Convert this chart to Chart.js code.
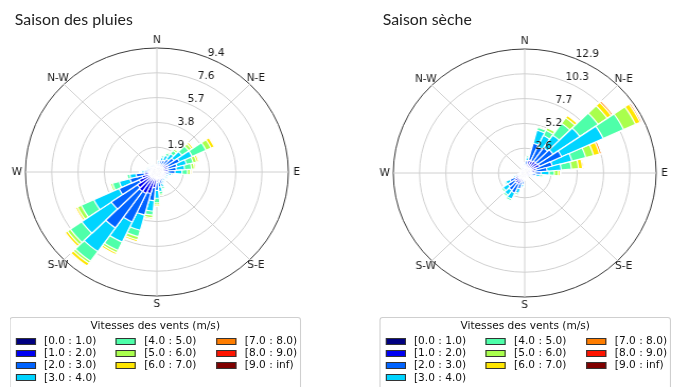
<!DOCTYPE html>
<html>
<head>
<meta charset="utf-8">
<script src="https://cdn.jsdelivr.net/npm/chart.js@4.4.0/dist/chart.umd.min.js"></script>
<style>
html, body { margin: 0; padding: 0; background: #fff; overflow: hidden; }
#page { position: relative; width: 637px; height: 387px; transform: scaleX(1.06); transform-origin: 0 0; }
.titre { position: absolute; top: 10px; font: 15px Lato, sans-serif; line-height: 18px; color: #222; white-space: nowrap; }
.rose { position: absolute; width: 300px; height: 300px; }
.legende { position: absolute; top: 317px; width: 273px; height: 90px; border: 1px solid #cfcfcf; border-radius: 3px;
  font: 10px "DejaVu Sans", sans-serif; color: #111; background: #fff; }
.legende .lt { position: absolute; left: 0; right: 0; top: 2px; text-align: center; line-height: 12px; }
.legende .sw { position: absolute; width: 19px; height: 7px; box-sizing: border-box; border: 1px solid #333; }
.legende .tx { position: absolute; line-height: 12px; white-space: nowrap; }
</style>
</head>
<body>
<div id="page">
  <div class="titre" style="left:14px">Saison des pluies</div>
  <div class="titre" style="left:361px">Saison sèche</div>
  <canvas id="rosePluies" class="rose" width="300" height="300" style="left:-2px;top:22px"></canvas>
  <canvas id="roseSeche" class="rose" width="300" height="300" style="left:345px;top:23px"></canvas>
  <div id="legPluies" class="legende" style="left:9px"></div>
  <div id="legSeche" class="legende" style="left:358px"></div>
</div>
<script>
// directions (degrees, clockwise from north), 36 sectors
const directions = [0, 10, 20, 30, 40, 50, 60, 70, 80, 90, 100, 110, 120, 130, 140, 150, 160, 170,
    180, 190, 200, 210, 220, 230, 240, 250, 260, 270, 280, 290, 300, 310, 320, 330, 340, 350];

const classes = ['[0.0 : 1.0)', '[1.0 : 2.0)', '[2.0 : 3.0)', '[3.0 : 4.0)', '[4.0 : 5.0)',
    '[5.0 : 6.0)', '[6.0 : 7.0)', '[7.0 : 8.0)', '[8.0 : 9.0)', '[9.0 : inf)'];
const couleurs = ['#000080', '#0000f1', '#0063ff', '#00d4ff', '#4effa9',
    '#a9ff4d', '#ffe600', '#ff7d00', '#ff1400', '#800000'];

// Saison des pluies : frequence (%) par classe de vitesse
const pluies0 = [0.2, 0.25, 0.3, 0.3, 0.3, 0.3, 0.3, 0.3, 0.3, 0.3, 0.25, 0.25, 0.25, 0.25, 0.25, 0.25, 0.3, 0.3,
    0.3, 0.3, 0.4, 0.4, 0.4, 0.4, 0.3, 0.3, 0.3, 0.25, 0.25, 0.25, 0.2, 0.2, 0.25, 0.2, 0.2, 0.2];
const pluies1 = [0.15, 0.25, 0.3, 0.3, 0.4, 0.5, 0.6, 0.5, 0.5, 0.4, 0.3, 0.25, 0.25, 0.25, 0.25, 0.3, 0.3, 0.4,
    0.5, 0.9, 1.3, 1.4, 1.4, 1.3, 1.1, 0.8, 0.6, 0.35, 0.25, 0.25, 0.2, 0.2, 0.25, 0.2, 0.15, 0.15];
const pluies2 = [0.1, 0.2, 0.3, 0.4, 0.5, 0.7, 0.9, 0.7, 0.6, 0.6, 0.3, 0.2, 0.2, 0.15, 0.2, 0.25, 0.35, 0.45,
    0.6, 1.0, 1.7, 2.4, 3.4, 2.3, 1.6, 0.9, 0.6, 0.3, 0.2, 0.15, 0.15, 0.15, 0.15, 0.1, 0.1, 0.1];
const pluies3 = [0.05, 0.15, 0.25, 0.4, 0.5, 0.7, 1.0, 0.7, 0.6, 0.5, 0.2, 0.15, 0.15, 0.1, 0.15, 0.15, 0.25, 0.35,
    0.6, 0.8, 1.2, 1.7, 2.2, 2.6, 2.0, 0.8, 0.45, 0.2, 0.15, 0.1, 0.1, 0.1, 0.1, 0.1, 0.05, 0.05];
const pluies4 = [0, 0.05, 0.15, 0.2, 0.3, 0.6, 1.1, 0.5, 0.5, 0.4, 0.1, 0.05, 0.05, 0.05, 0.05, 0.05, 0.15, 0.2,
    0.35, 0.3, 0.5, 0.7, 0.9, 1.0, 1.0, 0.5, 0.2, 0.1, 0.05, 0.05, 0.05, 0.05, 0.05, 0, 0, 0];
const pluies5 = [0, 0, 0, 0.1, 0.15, 0.25, 0.4, 0.25, 0.2, 0.2, 0.05, 0, 0, 0, 0, 0, 0.05, 0.1,
    0.15, 0.2, 0.25, 0.2, 0.2, 0.25, 0.3, 0.15, 0.05, 0, 0, 0, 0, 0, 0, 0, 0, 0];
const pluies6 = [0, 0, 0, 0, 0.05, 0.15, 0.25, 0.15, 0.1, 0.1, 0, 0, 0, 0, 0, 0, 0, 0,
    0.1, 0.1, 0.15, 0.15, 0.25, 0.2, 0.15, 0.05, 0, 0, 0, 0, 0, 0, 0, 0, 0, 0];
const pluies7 = [0, 0, 0, 0, 0, 0, 0.05, 0, 0, 0, 0, 0, 0, 0, 0, 0, 0, 0,
    0, 0, 0, 0, 0.05, 0.05, 0.05, 0, 0, 0, 0, 0, 0, 0, 0, 0, 0, 0];
const pluies8 = [0, 0, 0, 0, 0, 0, 0, 0, 0, 0, 0, 0, 0, 0, 0, 0, 0, 0,
    0, 0, 0, 0, 0, 0, 0, 0, 0, 0, 0, 0, 0, 0, 0, 0, 0, 0];
const pluies9 = [0, 0, 0, 0, 0, 0, 0, 0, 0, 0, 0, 0, 0, 0, 0, 0, 0, 0,
    0, 0, 0, 0, 0, 0, 0, 0, 0, 0, 0, 0, 0, 0, 0, 0, 0, 0];

// Saison seche
const seche0 = [0.25, 0.3, 0.4, 0.4, 0.4, 0.4, 0.4, 0.3, 0.3, 0.3, 0.2, 0.2, 0.2, 0.15, 0.15, 0.15, 0.15, 0.15,
    0.2, 0.3, 0.3, 0.4, 0.4, 0.4, 0.3, 0.3, 0.2, 0.15, 0.15, 0.15, 0.15, 0.15, 0.15, 0.2, 0.2, 0.25];
const seche1 = [0.35, 0.5, 1.0, 1.0, 1.1, 1.1, 1.2, 0.9, 0.7, 0.5, 0.4, 0.25, 0.2, 0.15, 0.1, 0.1, 0.1, 0.1,
    0.25, 0.5, 0.7, 0.9, 0.9, 0.8, 0.7, 0.35, 0.2, 0.15, 0.1, 0.1, 0.1, 0.1, 0.15, 0.15, 0.2, 0.25];
const seche2 = [0.25, 0.5, 1.8, 1.6, 1.7, 1.9, 2.4, 1.6, 1.2, 0.8, 0.5, 0.25, 0.1, 0.1, 0.05, 0.05, 0.05, 0.05,
    0.15, 0.4, 0.7, 1.0, 0.9, 0.8, 0.6, 0.3, 0.15, 0.1, 0.05, 0.05, 0.05, 0.05, 0.1, 0.1, 0.15, 0.2];
const seche3 = [0.15, 0.3, 1.4, 1.3, 1.6, 3.2, 4.5, 2.0, 1.4, 0.8, 0.4, 0.15, 0.1, 0, 0, 0, 0, 0,
    0.1, 0.25, 0.5, 0.7, 0.6, 0.6, 0.45, 0.2, 0.05, 0, 0, 0, 0, 0, 0, 0.05, 0.05, 0.1];
const seche4 = [0, 0.2, 0.3, 0.6, 1.5, 2.2, 2.2, 1.4, 1.0, 0.5, 0.2, 0.1, 0, 0, 0, 0, 0, 0,
    0, 0.05, 0.2, 0.2, 0.2, 0.2, 0.15, 0.05, 0, 0, 0, 0, 0, 0, 0, 0, 0, 0];
const seche5 = [0, 0, 0.1, 0.3, 0.7, 1.1, 1.3, 0.8, 0.7, 0.4, 0.1, 0.05, 0, 0, 0, 0, 0, 0,
    0, 0, 0, 0, 0, 0, 0, 0, 0, 0, 0, 0, 0, 0, 0, 0, 0, 0];
const seche6 = [0, 0, 0, 0, 0.3, 0.5, 0.5, 0.6, 0.4, 0.2, 0, 0, 0, 0, 0, 0, 0, 0,
    0, 0, 0, 0, 0, 0, 0, 0, 0, 0, 0, 0, 0, 0, 0, 0, 0, 0];
const seche7 = [0, 0, 0, 0, 0, 0.2, 0.15, 0.2, 0.1, 0, 0, 0, 0, 0, 0, 0, 0, 0,
    0, 0, 0, 0, 0, 0, 0, 0, 0, 0, 0, 0, 0, 0, 0, 0, 0, 0];
const seche8 = [0, 0, 0, 0, 0, 0, 0.05, 0, 0, 0, 0, 0, 0, 0, 0, 0, 0, 0,
    0, 0, 0, 0, 0, 0, 0, 0, 0, 0, 0, 0, 0, 0, 0, 0, 0, 0];
const seche9 = [0, 0, 0, 0, 0, 0, 0, 0, 0, 0, 0, 0, 0, 0, 0, 0, 0, 0,
    0, 0, 0, 0, 0, 0, 0, 0, 0, 0, 0, 0, 0, 0, 0, 0, 0, 0];

const pluiesMax = 9.45;
const pluiesTicks = ['1.9', '3.8', '5.7', '7.6', '9.4'];
const secheMax = 12.9;
const secheTicks = ['2.6', '5.2', '7.7', '10.3', '12.9'];

const points = ['N', 'N-E', 'E', 'S-E', 'S', 'S-W', 'W', 'N-W'];

// angle lines under the bars, compass and radius labels on top
const roseDecor = {
    id: 'roseDecor',
    beforeDatasetsDraw(chart) {
        const s = chart.scales.r;
        const ctx = chart.ctx;
        ctx.save();
        ctx.strokeStyle = '#d0d0d0';
        ctx.lineWidth = 1;
        for (let k = 0; k < 8; k++) {
            const a = k * Math.PI / 4 - Math.PI / 2;
            ctx.beginPath();
            ctx.moveTo(s.xCenter, s.yCenter);
            ctx.lineTo(s.xCenter + s.drawingArea * Math.cos(a), s.yCenter + s.drawingArea * Math.sin(a));
            ctx.stroke();
        }
        ctx.restore();
    },
    afterDatasetsDraw(chart, args, opts) {
        const s = chart.scales.r;
        const ctx = chart.ctx;
        ctx.save();
        ctx.fillStyle = '#1a1a1a';
        ctx.font = '10px "DejaVu Sans"';
        ctx.textAlign = 'center';
        ctx.textBaseline = 'middle';
        points.forEach((p, k) => {
            const a = k * Math.PI / 4 - Math.PI / 2;
            const d = s.drawingArea + 8;
            ctx.fillText(p, s.xCenter + d * Math.cos(a), s.yCenter + d * Math.sin(a));
        });
        ctx.textAlign = 'left';
        ctx.textBaseline = 'alphabetic';
        const t = 22.5 * Math.PI / 180;
        s.ticks.forEach((tick, i) => {
            if (i === 0) return;
            const r = s.getDistanceFromCenterForValue(tick.value);
            ctx.fillText(opts.labels[i - 1], s.xCenter + r * Math.sin(t) + 0.5, s.yCenter - r * Math.cos(t) - 1);
        });
        ctx.restore();
    }
};

function makeRose(id, bins, max, tickLabels) {
    // stacked bars: each dataset holds the running total up to its speed class
    const cumul = [];
    let run = directions.map(() => 0);
    bins.forEach(b => {
        run = run.map((v, i) => v + b[i]);
        cumul.push(run.slice());
    });
    const datasets = cumul.map((c, k) => ({
        data: c,
        backgroundColor: couleurs[k],
        borderColor: '#ffffff',
        borderWidth: 1.2
    }));
    return new Chart(document.getElementById(id).getContext('2d'), {
        type: 'polarArea',
        data: { labels: directions.map(String), datasets: datasets },
        options: {
            responsive: false,
            animation: false,
            startAngle: -5,
            layout: { padding: 26 },
            plugins: {
                legend: { display: false },
                tooltip: { enabled: false },
                roseDecor: { labels: tickLabels }
            },
            scales: {
                r: {
                    min: 0,
                    max: max,
                    startAngle: -5,
                    ticks: { display: false, count: 6 },
                    grid: {
                        circular: true,
                        color: c => c.index === 5 ? '#3a3a3a' : '#d0d0d0',
                        lineWidth: 1
                    },
                    angleLines: { display: false },
                    pointLabels: { display: false }
                }
            }
        },
        plugins: [roseDecor]
    });
}

function makeLegend(id) {
    const box = document.getElementById(id);
    const lt = document.createElement('div');
    lt.className = 'lt';
    lt.textContent = 'Vitesses des vents (m/s)';
    box.appendChild(lt);
    const colX = [4.5, 99, 194];
    const rowY = [23, 35.2, 47.4, 59.6];
    classes.forEach((c, k) => {
        const col = k < 4 ? 0 : (k < 7 ? 1 : 2);
        const row = k < 4 ? k : (k < 7 ? k - 4 : k - 7);
        const sw = document.createElement('div');
        sw.className = 'sw';
        sw.style.left = colX[col] + 'px';
        sw.style.top = (rowY[row] - 3.5) + 'px';
        sw.style.background = couleurs[k];
        box.appendChild(sw);
        const tx = document.createElement('div');
        tx.className = 'tx';
        tx.style.left = (colX[col] + 27) + 'px';
        tx.style.top = (rowY[row] - 6) + 'px';
        tx.textContent = c;
        box.appendChild(tx);
    });
}

makeRose('rosePluies', [pluies0, pluies1, pluies2, pluies3, pluies4, pluies5, pluies6, pluies7, pluies8, pluies9],
    pluiesMax, pluiesTicks);
makeRose('roseSeche', [seche0, seche1, seche2, seche3, seche4, seche5, seche6, seche7, seche8, seche9],
    secheMax, secheTicks);
makeLegend('legPluies');
makeLegend('legSeche');
</script>
</body>
</html>
